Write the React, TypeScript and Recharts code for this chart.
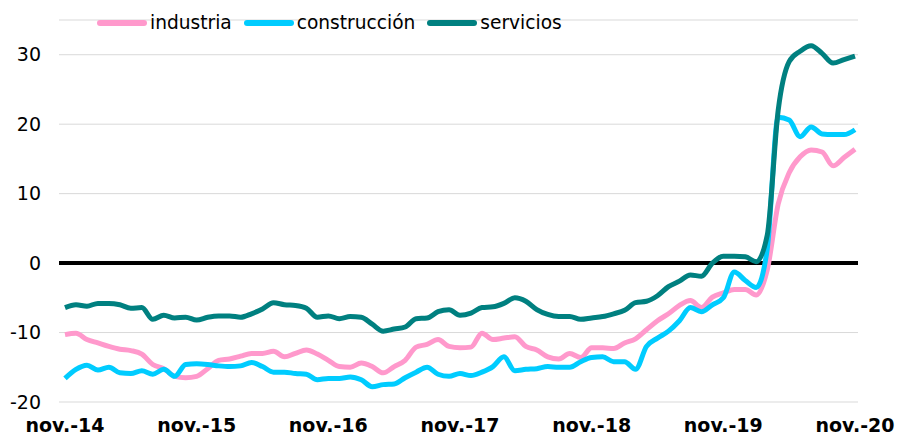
import { LineChart, Line, XAxis, YAxis, CartesianGrid, ReferenceLine } from "recharts";

// meses nov.-14 .. nov.-20
const monthNames = ["ene.", "feb.", "mar.", "abr.", "may.", "jun.", "jul.", "ago.", "sep.", "oct.", "nov.", "dic."];
const startYear = 14;
const startMonth = 10; // nov.

const industria = [
  -10.3, -10.1, -11.0, -11.5, -12.0, -12.4, -12.6, -13.1, -14.6, -15.2, -16.3, -16.5,
  -16.3, -15.2, -14.0, -13.8, -13.4, -13.0, -13.0, -12.7, -13.5, -13.0, -12.5, -13.1,
  -14.0, -14.9, -15.0, -14.4, -14.9, -15.8, -14.9, -14.0, -12.1, -11.7, -11.0, -12.0,
  -12.2, -12.1, -10.1, -11.0, -10.8, -10.6, -12.0, -12.5, -13.5, -13.8, -13.0, -13.6,
  -12.2, -12.2, -12.3, -11.5, -10.9, -9.6, -8.3, -7.3, -6.1, -5.4, -6.4, -4.9,
  -4.3, -3.8, -3.8, -4.6, -1.0, 8.5, 13.0, 15.3, 16.3, 16.0, 14.0, 15.2,
  16.4,
];

const construccion = [
  -16.6, -15.3, -14.7, -15.4, -15.0, -15.8, -15.9, -15.5, -16.0, -15.3, -16.3, -14.6,
  -14.5, -14.6, -14.8, -14.9, -14.8, -14.3, -14.9, -15.7, -15.7, -15.9, -16.0, -16.8,
  -16.6, -16.6, -16.4, -16.8, -17.8, -17.5, -17.4, -16.5, -15.7, -15.0, -16.0, -16.3,
  -15.9, -16.2, -15.7, -14.9, -13.5, -15.5, -15.3, -15.2, -14.9, -15.0, -15.0, -14.2,
  -13.6, -13.5, -14.2, -14.2, -15.3, -12.0, -10.8, -9.8, -8.3, -6.4, -7.0, -6.0,
  -5.0, -1.3, -2.5, -3.5, 2.0, 21.0, 20.6, 18.2, 19.6, 18.6, 18.5, 18.5,
  19.2,
];

const servicios = [
  -6.4, -6.0, -6.2, -5.8, -5.8, -6.0, -6.5, -6.4, -8.1, -7.5, -7.9, -7.8,
  -8.2, -7.8, -7.6, -7.6, -7.8, -7.3, -6.6, -5.7, -6.0, -6.1, -6.5, -7.8,
  -7.6, -8.0, -7.7, -7.8, -8.8, -9.8, -9.5, -9.2, -8.0, -7.9, -7.0, -6.7,
  -7.5, -7.2, -6.4, -6.3, -5.8, -5.0, -5.5, -6.7, -7.4, -7.7, -7.7, -8.1,
  -7.9, -7.7, -7.3, -6.8, -5.7, -5.5, -4.7, -3.4, -2.6, -1.7, -1.9, 0.0,
  1.0, 1.0, 0.9, 0.2, 4.0, 22.0, 29.0, 30.5, 31.3, 30.2, 28.8, 29.3,
  29.8,
];

const yTicks = [-20, -10, 0, 10, 20, 30];

const series = [
  { key: "industria", name: "industria", color: "#FF99CC", values: industria },
  { key: "construccion", name: "construcción", color: "#00CCFF", values: construccion },
  { key: "servicios", name: "servicios", color: "#008080", values: servicios },
];

const data = industria.map((_, i) => {
  const m = startMonth + i;
  const label = `${monthNames[m % 12]}-${startYear + Math.floor(m / 12)}`;
  return {
    label,
    industria: industria[i],
    construccion: construccion[i],
    servicios: servicios[i],
  };
});

const font = "'DejaVu Sans', Verdana, sans-serif";

export default function App() {
  return (
    <div style={{ position: "absolute", left: 0, top: 0, width: 897, height: 436, background: "#fff", fontFamily: font }}>
      <div style={{ position: "absolute", left: 97, top: 12, display: "flex", alignItems: "center", fontSize: 18.6, color: "#000", zIndex: 2 }}>
        {series.map((s) => (
          <div key={s.key} style={{ display: "flex", alignItems: "center", marginRight: 12 }}>
            <span style={{ display: "inline-block", width: 50, height: 6, borderRadius: 3, background: s.color, marginRight: 3 }} />
            <span>{s.name}</span>
          </div>
        ))}
      </div>
      <LineChart width={897} height={436} data={data} margin={{ top: 20, right: 39, left: 0, bottom: 4 }}>
        <CartesianGrid vertical={false} stroke="#d9d9d9" strokeWidth={1} />
        <XAxis
          dataKey="label"
          interval={11}
          axisLine={false}
          tickLine={false}
          tickSize={0}
          tickMargin={17}
          height={30}
          padding={{ left: 6, right: 3 }}
          tick={{ fill: "#000", fontSize: 19, fontWeight: "bold", fontFamily: font }}
        />
        <YAxis
          domain={[-20, 35]}
          ticks={yTicks}
          axisLine={false}
          tickLine={false}
          tickSize={0}
          tickMargin={18}
          width={59}
          tick={{ fill: "#000", fontSize: 19, fontFamily: font }}
        />
        <ReferenceLine y={0} stroke="#000" strokeWidth={4} />
        {series.map((s) => (
          <Line
            key={s.key}
            type="monotone"
            dataKey={s.key}
            name={s.name}
            stroke={s.color}
            strokeWidth={5}
            dot={false}
            isAnimationActive={false}
          />
        ))}
      </LineChart>
    </div>
  );
}
